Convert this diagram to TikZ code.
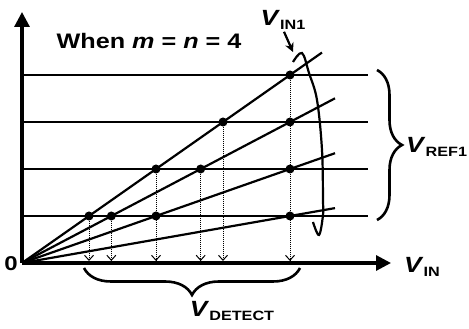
\documentclass[tikz,border=0pt]{standalone}
\usepackage{fontspec}
\setmainfont{Liberation Sans}[FakeStretch=1.2]
\usetikzlibrary{arrows.meta,decorations.pathreplacing}
\newcommand{\Vsub}[1]{\textit{V}\raisebox{-4pt}{\fontsize{13.5}{14}\selectfont #1}}

\begin{document}
\begin{tikzpicture}[x=1pt,y=1pt,
    level/.style={line width=2.4pt},
    ramp/.style={line width=2.2pt},
    axis/.style={line width=3.2pt,-{Triangle[length=15pt,width=15pt]}},
    dot/.style={circle,fill,inner sep=0pt,minimum size=9pt},
    drop/.style={line width=1pt,dash pattern=on 1pt off 1pt,-{Straight Barb[length=5pt,width=9pt]}},
    brc/.style={line width=2.6pt,decorate,decoration={brace,amplitude=#1}},
    lab/.style={inner sep=0pt,font=\bfseries\fontsize{22}{22}\selectfont}]
  \useasboundingbox (-22,-66) rectangle (447,263);
  \coordinate (O) at (0,0);
  % reference levels and ramps
  \foreach \i in {1,...,4}
    \draw[level] (0,47*\i) -- (346,47*\i);
  \foreach \j/\e in {1/300,2/313,3/313,4/313}
    \draw[ramp] (O) -- (\e,{(5-\j)*47/268*\e});
  \draw[axis] (O) -- (0,251);
  \draw[axis] (O) -- (369,0);
  % crossings
  \foreach \j in {1,...,4} {
    \pgfmathtruncatemacro\n{5-\j}
    \foreach \i in {1,...,\n}
      \node[dot] (d\j\i) at ({268*\i/\n},47*\i) {};
  }
  \foreach \d in {d11,d12,d13,d14,d21,d22}
    \draw[drop] (\d) -- (\d |- 0,2);
  % V_IN1 sweep
  \draw[line width=2.2pt] plot[smooth,tension=.6] coordinates {(271,201) (280,210) (287,190) (295,163) (300,113) (301,63) (301,48) (297,28) (291,41)};
  \coordinate (hook) at (271,211);
  \node[lab] (vin1) at (261,243) {\Vsub{IN1}};
  \draw[line width=2.2pt,-{Stealth[length=9pt,width=9pt]}] ([shift={(1,-2)}]vin1.south) -- (hook);
  \node[lab,font=\bfseries\fontsize{21}{21}\selectfont] (title) at (127,222.5) {When \textit{m} = \textit{n} = 4};
  % braces and labels
  \draw[brc=25pt] (355,193) -- (355,43);
  \draw[brc=27pt] (278,-5) -- (62,-5);
  \node[lab,anchor=west] (vref) at (384,116) {\Vsub{REF1}};
  \node[lab] (vdet) at (210,-48) {\Vsub{DETECT}};
  \node[lab] (vin) at (400,-4) {\Vsub{IN}};
  \node[lab,font=\bfseries\fontsize{20}{20}\selectfont] (zero) at (-11,-0.5) {0};
\end{tikzpicture}
\end{document}
